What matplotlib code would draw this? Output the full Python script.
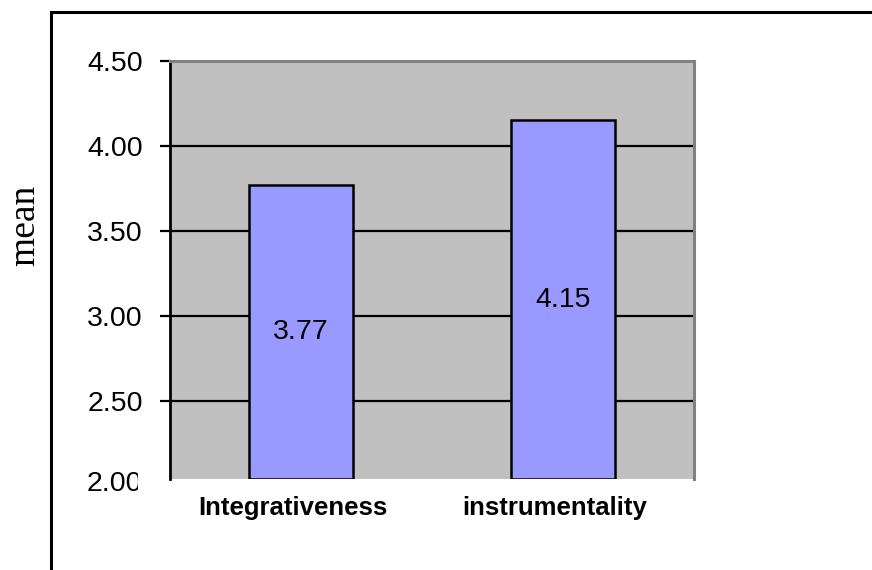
import matplotlib
matplotlib.use("Agg")
import matplotlib.pyplot as plt
from matplotlib.patches import Rectangle
from matplotlib.transforms import Bbox, TransformedBbox, ScaledTranslation

categories = ["Integrativeness", "instrumentality"]
means = [3.77, 4.15]
tick_values = [2.50, 3.00, 3.50, 4.00, 4.50]
tick_labels = ["2.50", "3.00", "3.50", "4.00", "4.50"]
axis_floor_label = "2.00"

plt.rcParams["font.family"] = ["Liberation Sans", "DejaVu Sans"]

W, H = 872, 570
fig = plt.figure(figsize=(W / 100, H / 100), dpi=100)
fig.patch.set_facecolor("white")

# outer chart frame, running off the right and bottom edges
frame = Rectangle((51 / W, -0.2), 1.2, 0.2 + (1 - 12 / H),
                  transform=fig.transFigure, fill=False, edgecolor="black",
                  linewidth=2.2, clip_on=False)
fig.add_artist(frame)

left, right, top, bottom = 170, 694, 61, 479
ax = fig.add_axes([left / W, 1 - bottom / H, (right - left) / W, (bottom - top) / H])
ax.set_facecolor("#C0C0C0")

ymin = 2.041
ax.set_xlim(-0.5, 1.5)
ax.set_ylim(ymin, 4.5)

# horizontal gridlines behind the bars
for v in tick_values[:-1]:
    ax.axhline(v, color="black", linewidth=1.6, zorder=1)

x = list(range(len(categories)))
bars = ax.bar(x, [m - ymin for m in means], bottom=ymin, width=0.40,
              color="#9999FF", edgecolor="black", linewidth=1.8, zorder=2)
ax.bar_label(bars, labels=[f"{m:.2f}" for m in means], label_type="center",
             fontsize=20.5, color="black", zorder=3)

# spines
ax.spines["left"].set_color("black")
ax.spines["left"].set_linewidth(2)
ax.spines["top"].set_color("#808080")
ax.spines["top"].set_linewidth(2.2)
ax.spines["right"].set_color("#808080")
ax.spines["right"].set_linewidth(2.2)
ax.spines["bottom"].set_visible(False)

ax.set_yticks(tick_values)
ax.set_yticklabels(tick_labels, fontsize=20.5)
ax.tick_params(axis="y", direction="out", length=7.2, width=1.6, pad=12.5,
               colors="black")

ax.set_xticks(x)
ax.set_xticklabels(categories, fontsize=18.5, fontweight="bold")
ax.tick_params(axis="x", length=0, pad=12)
shift = ScaledTranslation(-8 / 100, 0, fig.dpi_scale_trans)
for lbl in ax.get_xticklabels():
    lbl.set_transform(lbl.get_transform() + shift)

# bottom value of the scale, partly hidden at the edge of the label area
t = fig.text(142 / W, 1 - 484 / H, axis_floor_label, fontsize=20.5,
             ha="right", va="center")
t.set_clip_box(TransformedBbox(Bbox([[0, 0], [137.5 / W, 1]]), fig.transFigure))
t.set_clip_on(True)

fig.text(25 / W, 1 - 225 / H, "mean", rotation=90, ha="center", va="center",
         fontsize=27, family=["Liberation Serif", "DejaVu Serif"])

fig.savefig("out.png", dpi=100)
